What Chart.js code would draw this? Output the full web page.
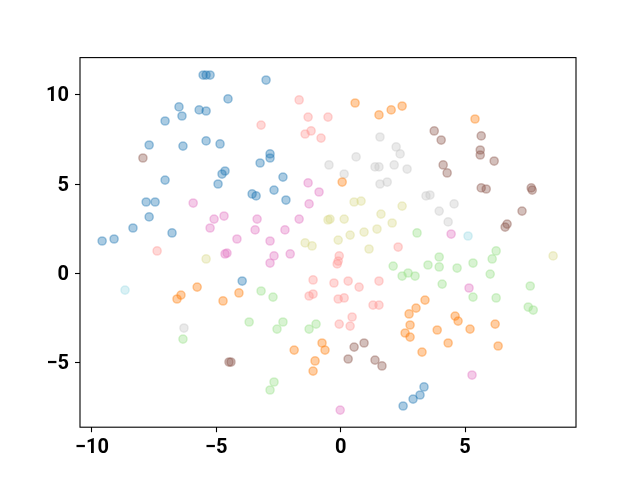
<!DOCTYPE html>
<html><head><meta charset="utf-8">
<script src="https://cdn.jsdelivr.net/npm/chart.js@4"></script>
<style>html,body{margin:0;padding:0;background:#fff}</style>
</head><body>
<canvas id="c" width="640" height="480"></canvas>
<script>
const xTicks = [-10, -5, 0, 5];
const yTicks = [-5, 0, 5, 10];

const seriesBlue = [[-5.53,11.12],[-5.41,11.12],[-5.25,11.12],[-4.53,9.78],[-6.50,9.33],[-6.38,8.82],[-5.69,9.16],[-5.41,9.10],[-7.06,8.54],[-7.70,7.19],[-6.34,7.13],[-5.41,7.42],[-4.85,7.25],[-4.65,5.73],[-4.77,5.56],[-7.06,5.22],[-4.93,5.00],[-3.00,10.84],[-2.84,6.69],[-2.84,6.46],[-3.24,6.18],[-2.32,5.39],[-7.82,3.99],[-7.46,3.99],[-7.70,3.15],[-8.35,2.53],[-9.59,1.80],[-9.11,1.91],[-6.78,2.25],[-3.96,-0.45],[-3.56,4.44],[-3.40,4.33],[-2.68,4.66],[-2.20,4.10],[2.51,-7.47],[2.91,-7.08],[3.19,-6.85],[3.35,-6.40]];
const seriesOrange = [[0.58,9.55],[1.54,8.88],[2.03,9.16],[2.47,9.38],[5.40,8.65],[0.06,5.11],[-5.77,-0.79],[-6.42,-1.24],[-6.58,-1.46],[-4.73,-1.57],[-4.09,-1.12],[-1.87,-4.33],[-0.75,-3.93],[-0.63,-4.33],[-1.03,-4.94],[-1.11,-5.51],[2.75,-2.30],[3.03,-1.97],[2.79,-2.92],[2.59,-3.37],[2.79,-3.60],[3.39,-1.52],[4.60,-2.42],[4.72,-2.70],[3.88,-3.20],[4.32,-3.93],[3.27,-4.44],[5.20,-3.15],[6.21,-2.87],[6.33,-4.10]];
const seriesLightRed = [[-1.67,9.72],[-1.31,8.76],[-0.51,8.76],[-3.20,8.31],[-1.43,7.81],[-1.19,7.98],[-0.79,7.58],[-7.38,1.24],[2.31,1.46],[-0.06,0.96],[-0.10,0.67],[-0.14,0.51],[-1.11,-0.39],[-0.27,-0.56],[0.30,-0.45],[0.74,-0.79],[1.54,-0.45],[-1.27,-1.29],[-1.11,-1.18],[-0.10,-1.46],[0.14,-1.40],[1.30,-1.80],[1.54,-1.80],[-0.06,-2.87],[0.46,-2.47],[0.38,-2.98]];
const seriesGray = [[1.58,7.64],[2.23,7.08],[2.39,6.69],[0.62,6.52],[-0.47,6.07],[1.38,5.96],[1.54,5.96],[2.15,6.07],[2.67,5.84],[0.14,5.56],[1.58,5.00],[1.87,5.11],[3.43,4.33],[3.59,4.38],[4.56,3.88],[3.96,3.48],[4.32,2.87],[-6.30,-3.09]];
const seriesOlive = [[-5.41,0.79],[0.54,3.99],[0.82,4.04],[2.47,3.76],[-0.51,2.98],[-0.43,3.03],[0.14,3.03],[1.62,3.31],[2.07,2.81],[0.94,2.30],[1.46,2.47],[0.38,2.13],[-0.10,1.85],[-1.43,1.69],[-1.15,1.52],[1.14,1.35],[8.54,0.96]];
const seriesBrown = [[-7.95,6.46],[3.76,7.98],[4.04,7.47],[5.65,7.70],[5.61,6.91],[5.61,6.63],[6.17,6.29],[4.12,6.07],[4.28,5.62],[5.65,4.78],[5.85,4.72],[7.66,4.78],[7.70,4.66],[7.29,3.48],[6.69,2.75],[6.61,2.58],[-4.49,-5.00],[-4.41,-5.00],[0.54,-4.16],[0.94,-3.93],[0.30,-4.83],[1.38,-4.89],[1.66,-5.22]];
const seriesGreen = [[2.11,0.39],[2.47,-0.17],[2.71,0.00],[2.99,-0.17],[3.07,2.25],[-3.20,-1.01],[-2.72,-1.35],[6.25,1.24],[6.09,0.79],[3.96,0.90],[3.51,0.45],[3.96,0.34],[4.68,0.28],[5.32,0.56],[6.01,-0.06],[4.08,-0.62],[7.62,-0.73],[5.32,-1.35],[6.25,-1.40],[-6.34,-3.71],[-3.68,-2.75],[-2.32,-2.75],[-2.56,-3.15],[-1.27,-3.15],[-0.99,-2.87],[-2.68,-6.12],[-2.84,-6.57],[7.54,-1.91],[7.74,-2.08]];
const seriesPink = [[-1.31,5.06],[-0.87,4.55],[-1.27,3.88],[-5.93,3.93],[-5.09,3.03],[-4.69,3.20],[-5.25,2.53],[-4.17,1.91],[-4.65,1.07],[-4.57,1.12],[-3.36,3.03],[-1.67,3.03],[-3.44,2.42],[-2.24,2.42],[-2.84,1.80],[-2.68,0.96],[-2.84,0.56],[-2.03,1.07],[4.44,2.19],[5.16,-0.84],[-0.02,-7.70],[5.28,-5.73]];
const seriesCyan = [[-8.67,-0.96],[5.12,2.08]];

const seriesList = [
  ['blue', seriesBlue, '31,119,180'],
  ['orange', seriesOrange, '255,127,14'],
  ['green', seriesGreen, '152,223,138'],
  ['lightred', seriesLightRed, '255,152,150'],
  ['brown', seriesBrown, '140,86,75'],
  ['pink', seriesPink, '227,119,194'],
  ['gray', seriesGray, '199,199,199'],
  ['olive', seriesOlive, '219,219,141'],
  ['cyan', seriesCyan, '158,218,229']
];
const ALPHA = 0.38;

const datasets = seriesList.map(([name, pts, rgb]) => ({
  label: name,
  data: pts.map(p => ({x: p[0], y: p[1]})),
  backgroundColor: `rgba(${rgb},${ALPHA})`,
  borderColor: `rgba(${rgb},${ALPHA})`,
  borderWidth: 1.5,
  pointRadius: 4.1,
  pointHoverRadius: 4.1
}));

const fmt = v => v < 0 ? '\u2212' + Math.abs(v) : String(v);
const tickFont = {family: 'Roboto', weight: 'bold', size: 20};

const framePlugin = {
  id: 'frame',
  afterDatasetsDraw(chart) {
    const a = chart.chartArea, ctx = chart.ctx;
    ctx.save();
    ctx.strokeStyle = '#000';
    ctx.lineWidth = 1.1;
    ctx.strokeRect(a.left, a.top, a.right - a.left, a.bottom - a.top);
    ctx.restore();
  }
};

new Chart(document.getElementById('c'), {
  type: 'scatter',
  data: {datasets},
  options: {
    responsive: false,
    devicePixelRatio: 1,
    animation: false,
    events: [],
    layout: {padding: {left: 0, right: 64, top: 57.6, bottom: 0}},
    plugins: {legend: {display: false}, tooltip: {enabled: false}},
    scales: {
      x: {
        type: 'linear', min: -10.48, max: 9.46,
        afterBuildTicks: s => { s.ticks = xTicks.map(v => ({value: v})); },
        afterFit: s => { s.height = 52.8; },
        border: {display: false},
        grid: {drawOnChartArea: false, drawTicks: true, tickLength: 5, color: '#000', tickWidth: 1.1},
        ticks: {color: '#000', font: tickFont, padding: 4, maxRotation: 0, callback: v => fmt(v)}
      },
      y: {
        type: 'linear', min: -8.66, max: 12.10,
        afterBuildTicks: s => { s.ticks = yTicks.map(v => ({value: v})); },
        afterFit: s => { s.width = 80; },
        border: {display: false},
        grid: {drawOnChartArea: false, drawTicks: true, tickLength: 5, color: '#000', tickWidth: 1.1},
        ticks: {color: '#000', font: tickFont, padding: 6, labelOffset: 1.5, callback: v => fmt(v)}
      }
    }
  },
  plugins: [framePlugin]
});
</script>
</body></html>
